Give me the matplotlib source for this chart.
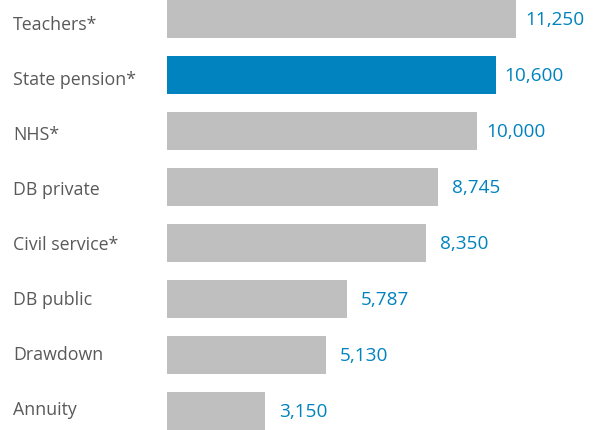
import matplotlib
matplotlib.use("Agg")
import matplotlib.pyplot as plt
from matplotlib.transforms import blended_transform_factory, offset_copy

categories = ["Teachers*", "State pension*", "NHS*", "DB private", "Civil service*",
              "DB public", "Drawdown", "Annuity"]
values = [11250, 10600, 10000, 8745, 8350, 5787, 5130, 3150]
highlight = "State pension*"

plt.rcParams['font.family'] = ['Open Sans', 'DejaVu Sans']

W, H = 599, 430
fig = plt.figure(figsize=(W / 100, H / 100), dpi=100)
left_px = 167
ax = fig.add_axes([left_px / W, 0, (W - left_px) / W, 1])

gray = "#bfbfbf"
blue = "#0083be"
txt = "#595959"

ys = list(range(len(categories)))
colors = [blue if c == highlight else gray for c in categories]
ax.barh(ys, values, height=0.67, color=colors, left=0)

scale = (516 - left_px) / 11250.0
ax.set_xlim(0, (W - left_px) / scale)
ax.set_ylim(7.339, -0.339)
ax.axis("off")

# category labels sit on a slightly tighter pitch than the bars
trans_lbl = blended_transform_factory(fig.transFigure, fig.transFigure)
for i, c in enumerate(categories):
    ypx = 22.7 + 55.0 * i
    ax.text(13 / W, 1 - ypx / H, c, transform=trans_lbl, ha="left",
            va="center_baseline", fontsize=12.8, color=txt)

for y, v in zip(ys, values):
    s = f"{v:,}"
    off = 9 if s.startswith("1") else 14
    val_trans = offset_copy(ax.transData, fig=fig, x=off, y=-1, units="dots")
    ax.text(v, y, s, transform=val_trans, ha="left", va="center",
            fontsize=13.7, color=blue)

fig.savefig("out.png", dpi=100)
